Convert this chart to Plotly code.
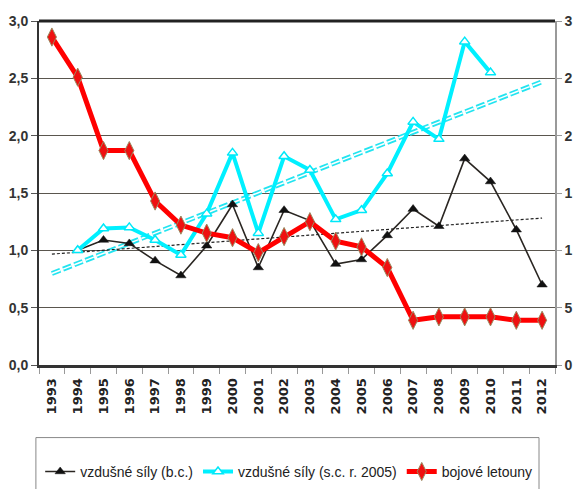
import numpy as np
import plotly.graph_objects as go

years = [str(y) for y in range(1993, 2013)]

# vzdušné síly (b.c.)
vs_bc = [None, 1.00, 1.09, 1.06, 0.91, 0.78, 1.04, 1.40, 0.85, 1.35, 1.26,
         0.88, 0.92, 1.13, 1.36, 1.21, 1.80, 1.60, 1.18, 0.70]
# vzdušné síly (s.c. r. 2005)
vs_sc = [None, 1.00, 1.19, 1.20, 1.09, 0.96, 1.32, 1.85, 1.15, 1.82, 1.70,
         1.27, 1.35, 1.67, 2.12, 1.97, 2.82, 2.55, None, None]
# bojové letouny
bojove = [2.86, 2.51, 1.87, 1.87, 1.43, 1.22, 1.15, 1.11, 0.98, 1.12, 1.25,
          1.08, 1.03, 0.85, 0.39, 0.42, 0.42, 0.42, 0.39, 0.39]

left_ticks = [0, 0.5, 1.0, 1.5, 2.0, 2.5, 3.0]
right_ticks = [0, 5, 10, 15, 20, 25, 30]
# right-hand labels as visible in the (cropped) reference
right_ticktext = ["0", "5", "1", "1", "2", "2", "3"]

names = ["vzdušné síly (b.c.)", "vzdušné síly (s.c. r. 2005)", "bojové letouny"]


def trend(vals):
    idx = np.array([i for i, v in enumerate(vals) if v is not None], dtype=float)
    v = np.array([v for v in vals if v is not None], dtype=float)
    k, q = np.polyfit(idx, v, 1)
    return [k * i + q for i in range(len(vals))]


tr_bc = trend(vs_bc)
tr_sc = trend(vs_sc)

fig = go.Figure()

# empty trace binding the right-hand axis
fig.add_trace(go.Scatter(x=[], y=[], yaxis="y2", showlegend=False, hoverinfo="skip"))

# trendlines
fig.add_trace(go.Scatter(x=years, y=tr_sc, mode="lines", showlegend=False,
                         line=dict(color="#22e4f0", width=5, dash="9px,3px"), hoverinfo="skip"))
fig.add_trace(go.Scatter(x=years, y=tr_sc, mode="lines", showlegend=False,
                         line=dict(color="white", width=1.5, dash="9px,3px"), hoverinfo="skip"))
fig.add_trace(go.Scatter(x=years, y=tr_bc, mode="lines", showlegend=False,
                         line=dict(color="#222222", width=1.2, dash="3px,2px"), hoverinfo="skip"))

fig.add_trace(go.Scatter(x=years, y=vs_bc, name=names[0], mode="lines+markers",
                         line=dict(color="#2a2622", width=1.6),
                         marker=dict(symbol="triangle-up", size=9, color="#111111",
                                     line=dict(color="#111111", width=0.5))))
fig.add_trace(go.Scatter(x=years, y=vs_sc, name=names[1], mode="lines+markers",
                         line=dict(color="#00f0ff", width=4),
                         marker=dict(symbol="triangle-up", size=9, color="white",
                                     line=dict(color="#00e8f8", width=1.5))))
fig.add_trace(go.Scatter(x=years, y=bojove, name=names[2], mode="lines+markers",
                         line=dict(color="#ff0000", width=5),
                         marker=dict(symbol="diamond-tall", size=13, color="#ee1111",
                                     line=dict(color="#9a8a60", width=1))))

tickfont = dict(family="Liberation Sans, Arial, sans-serif", size=14, color="#333333", weight="bold")

fig.update_layout(
    width=574, height=489,
    margin=dict(l=39, r=19, t=21, b=124, autoexpand=False),
    paper_bgcolor="white", plot_bgcolor="white",
    separators=", ",
    showlegend=True,
    legend=dict(orientation="h", xref="container", yref="container",
                x=0.07, y=0.035, xanchor="left", yanchor="middle",
                font=dict(family="Liberation Sans, Arial, sans-serif", size=14, color="#222222"),
                itemwidth=30, tracegroupgap=0, bgcolor="rgba(0,0,0,0)"),
    xaxis=dict(type="category", showgrid=False, tickangle=-90, tickson="boundaries",
               ticks="outside", ticklen=6, tickcolor="#999999", tickwidth=1,
               showline=True, linecolor="#333333", linewidth=3, ticklabelstandoff=5,
               tickfont=dict(family="DejaVu Sans, sans-serif", size=13, color="#222222", weight="bold"),
               range=[-0.5, 19.5], fixedrange=True, automargin=False),
    yaxis=dict(range=[0, 3], tickvals=left_ticks, tickformat=".1f",
               showgrid=True, gridcolor="#5a564e", gridwidth=1,
               ticks="outside", ticklen=6, tickcolor="#555555",
               showline=True, linecolor="#333333", linewidth=2,
               zeroline=False, tickfont=tickfont, automargin=False),
    yaxis2=dict(range=[0, 30], tickvals=right_ticks, ticktext=right_ticktext,
                overlaying="y", side="right",
                showgrid=False, ticks="outside", ticklen=5, tickcolor="#999999",
                showline=True, linecolor="#999999", linewidth=1.5, zeroline=False,
                tickfont=tickfont, automargin=False),
    shapes=[
        dict(type="line", xref="paper", yref="paper", x0=0, x1=1, y0=1, y1=1,
             line=dict(color="#222222", width=3)),
        dict(type="rect", xref="paper", yref="paper", x0=-0.006, x1=0.969,
             y0=-0.45, y1=-0.211, line=dict(color="#888888", width=1)),
    ],
)

fig.write_html("out.html", config={"displayModeBar": False},
               post_script="document.body.style.margin='0';document.body.style.overflow='hidden';")
